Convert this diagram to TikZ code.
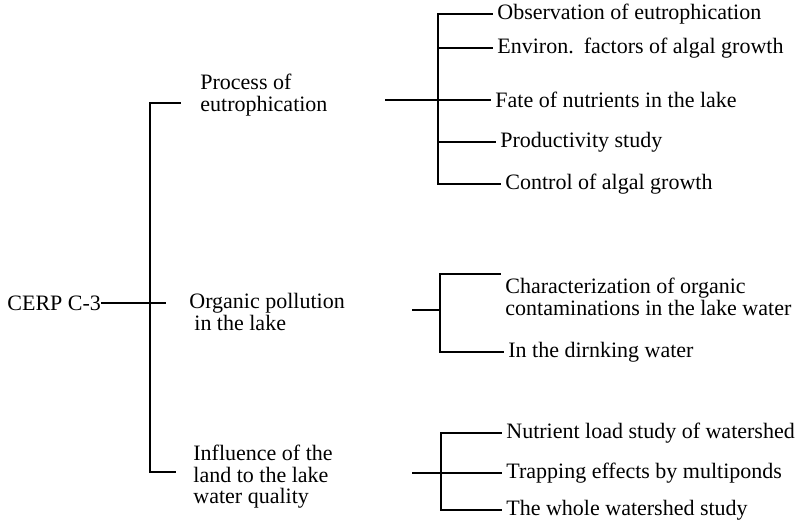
\documentclass[tikz,border=0pt]{standalone}
\usepackage{fontspec}
\setmainfont{Liberation Serif}
\begin{document}
\begin{tikzpicture}
[x=0.5pt,y=-0.5pt,
  linedecorate/.style={-,line width=0.6pt},%
  elbow/.style={linedecorate,to path={|- (\tikztotarget)}},%
  topic/.style={anchor=west,inner sep=0pt,align=left,font=\fontsize{11}{10.7}\selectfont},%
  leaf/.style={inner sep=2pt,align=left,font=\fontsize{11}{10.7}\selectfont}]
\useasboundingbox (0,0) rectangle (810,526);
%% root and topics
\node (root) at (7,303) [topic] {CERP C-3};
\foreach \nodename/\x/\y/\txt in {proc/200/95/{Process of\\eutrophication},
  orgp/189/312/{Organic pollution\\\hspace*{2.5pt}in the lake},
  infl/193/477/{Influence of the\\land to the lake\\water quality}} {
  \node (\nodename) at (\x,\y) [topic] {\txt};
}
%% sub topics
\foreach \nodename/\anc/\x/\y/\txt in {obs/west/493/14/{Observation of eutrophication},
  env/west/493/48/{Environ.\hspace{5pt}factors of algal growth},
  fate/west/491/100/{Fate of nutrients in the lake},
  prod/west/496/142/{Productivity study},
  ctrl/west/501/184/{Control of algal growth},
  char/north west/501/274/{Characterization of organic\\contaminations in the lake water},
  drink/west/504/352/{In the dirnking water},
  load/west/502/433/{Nutrient load study of watershed},
  trap/west/502/473/{Trapping effects by multiponds},
  whole/west/502/510/{The whole watershed study}} {
  \node (\nodename) at (\x,\y) [leaf,anchor=\anc] {\txt};
}
%% joints
\foreach \cname/\x/\y in {t1/181/103, t2/166/303, t3/176/472, jr/150/303,
  pout/385/100, j1/438/100, oout/412/310, j2/440/310, iout/412/473, j3/441/473} {
  \coordinate (\cname) at (\x,\y);
}
%% edges or lines
\path
\foreach \startnode/\endnode in {root/t2, pout/j1, oout/j2, iout/j3,
  j1/fate, j3/trap} {
  (\startnode) edge[linedecorate] (\endnode)
};
\path
\foreach \startnode/\endnode in {jr/t1, jr/t3, j1/obs, j1/env, j1/prod,
  j1/ctrl, j2/char.north west, j2/drink, j3/load, j3/whole} {
  (\startnode) edge[elbow] (\endnode)
};
\end{tikzpicture}
\end{document}
